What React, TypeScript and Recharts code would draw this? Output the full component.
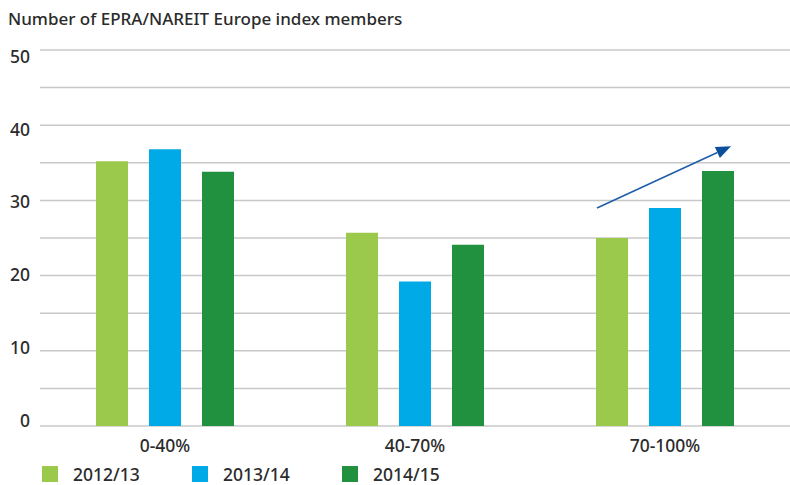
import React from 'react';
import { BarChart, Bar, XAxis, YAxis, CartesianGrid, ReferenceLine } from 'recharts';

const categories = ['0-40%', '40-70%', '70-100%'];
const seriesNames = ['2012/13', '2013/14', '2014/15'];
const values2012 = [35.2, 25.7, 25];
const values2013 = [36.8, 19.2, 29];
const values2014 = [33.8, 24.1, 33.9];
const yTicks = [0, 5, 10, 15, 20, 25, 30, 35, 40, 45, 50];
// trend arrow over the last group, in (band index, members) units
const trendArrow = [
  { x: 2.228, y: 29 },
  { x: 2.764, y: 37.2 },
];

const colors = ['#9bc94b', '#00aae7', '#21913f'];
const textColor = '#2b2b2b';
const fontFamily = '"Noto Sans", sans-serif';
const fontWeight = 500;

const data = categories.map((name, i) => ({
  name,
  pos: i + 0.5,
  s2012: values2012[i],
  s2013: values2013[i],
  s2014: values2014[i],
}));

const YTick = (props: any) => {
  const { y, payload } = props;
  const v = payload.value;
  if (v % 10 !== 0) return null;
  // labels sit slightly off the grid lines in the original
  const shift = -5 + v * 0.23;
  return (
    <text x={30} y={y + shift} dy="0.35em" textAnchor="end" fill={textColor} fontSize={17.5} fontWeight={fontWeight} fontFamily={fontFamily}>
      {v}
    </text>
  );
};

const XTick = (props: any) => {
  const { x, y, payload } = props;
  return (
    <text x={x} y={y + 18} textAnchor="middle" fill={textColor} fontSize={17.5} fontWeight={fontWeight} fontFamily={fontFamily}>
      {payload.value}
    </text>
  );
};

const Arrow = (props: any) => {
  const { x1, y1, x2, y2 } = props;
  if ([x1, y1, x2, y2].some((v) => typeof v !== 'number' || isNaN(v))) return null;
  const ang = Math.atan2(y2 - y1, x2 - x1);
  const len = 15;
  const half = 6;
  const bx = x2 - len * Math.cos(ang);
  const by = y2 - len * Math.sin(ang);
  const px = -Math.sin(ang) * half;
  const py = Math.cos(ang) * half;
  return (
    <g>
      <line x1={x1} y1={y1} x2={bx} y2={by} stroke="#1f5fa8" strokeWidth={1.6} />
      <polygon points={`${x2},${y2} ${bx + px},${by + py} ${bx - px},${by - py}`} fill="#0b4f9c" />
    </g>
  );
};

export default function App() {
  const keys = ['s2012', 's2013', 's2014'];
  return (
    <div style={{ position: 'relative', width: 790, height: 485, background: '#fff', fontFamily, fontWeight }}>
      <style>{`body{margin:0}`}</style>
      <div style={{ position: 'absolute', left: 8, top: 7, fontSize: 17, color: textColor, whiteSpace: 'nowrap' }}>
        Number of EPRA/NAREIT Europe index members
      </div>
      <BarChart
        width={790}
        height={485}
        data={data}
        margin={{ top: 50, right: 0, left: 0, bottom: 19 }}
        barSize={32}
        barGap={21}
      >
        <CartesianGrid vertical={false} stroke="#c8c8c8" strokeWidth={1.5} />
        <XAxis dataKey="name" height={40} axisLine={false} tickLine={false} tick={<XTick />} interval={0} />
        <XAxis xAxisId="num" dataKey="pos" type="number" domain={[0, 3]} allowDataOverflow hide />
        <YAxis
          domain={[0, 50]}
          ticks={yTicks}
          width={40}
          axisLine={false}
          tickLine={false}
          tick={<YTick />}
          interval={0}
        />
        {keys.map((k, i) => (
          <Bar key={k} dataKey={k} name={seriesNames[i]} fill={colors[i]} isAnimationActive={false} />
        ))}
        <ReferenceLine
          xAxisId="num"
          yAxisId={0}
          segment={trendArrow}
          shape={(p: any) => <Arrow {...p} />}
          ifOverflow="visible"
        />
      </BarChart>
      <div style={{ position: 'absolute', left: 42, top: 464, display: 'flex' }}>
        {seriesNames.map((n, i) => (
          <div key={n} style={{ width: 150, display: 'flex', alignItems: 'center' }}>
            <span style={{ width: 16, height: 16, background: colors[i], display: 'inline-block', marginRight: 15 }} />
            <span style={{ fontSize: 17.5, color: textColor, lineHeight: '20px' }}>{n}</span>
          </div>
        ))}
      </div>
    </div>
  );
}
